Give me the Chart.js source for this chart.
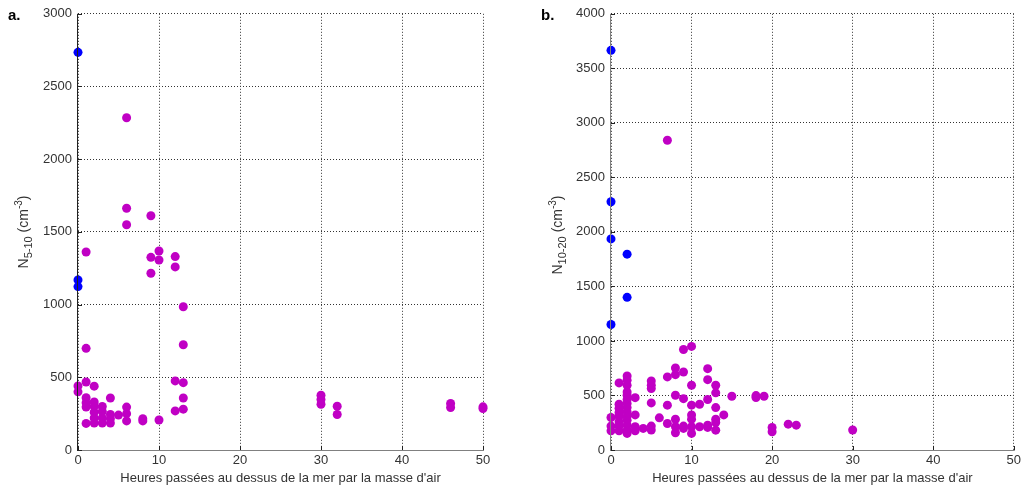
<!DOCTYPE html>
<html>
<head>
<meta charset="utf-8">
<script src="https://cdn.jsdelivr.net/npm/chart.js@4"></script>
<style>
  body { margin: 0; background: #fff; width: 1024px; height: 488px; position: relative; overflow: hidden; }
  .panel { position: absolute; top: 0; width: 512px; height: 488px; }
  .tag { position: absolute; top: 6px; font: bold 15px "Liberation Sans", Arial, sans-serif; color: #000; }
</style>
</head>
<body>
<div class="panel" style="left:0"><canvas id="chart-a" width="512" height="488"></canvas></div>
<div class="panel" style="left:512px"><canvas id="chart-b" width="512" height="488"></canvas></div>
<div class="tag" style="left:8px">a.</div>
<div class="tag" style="left:541px">b.</div>
<script>
// Panel a: N 5-10
const aBlueX = [0, 0, 0];
const aBlueY = [2735, 1170, 1124];
const aMagX = [0, 0,
  1, 1, 1, 1, 1, 1, 1,
  2, 2, 2, 2, 2, 2,
  3, 3, 3, 3,
  4, 4, 4, 4,
  5,
  6, 6, 6, 6, 6, 6,
  8, 8,
  9, 9, 9,
  10, 10, 10,
  12, 12, 12, 12,
  13, 13, 13, 13, 13,
  30, 30, 30,
  32, 32,
  46, 46,
  50, 50];
const aMagY = [440, 400,
  1362, 699, 468, 360, 325, 295, 183,
  439, 330, 300, 260, 220, 185,
  300, 265, 220, 185,
  358, 245, 215, 185,
  240,
  2285, 1663, 1549, 295, 250, 200,
  215, 200,
  1611, 1325, 1216,
  1369, 1307, 206,
  1330, 1259, 475, 269,
  985, 724, 463, 358, 281,
  377, 347, 315,
  301, 244,
  320, 292,
  297, 285];

// Panel b: N 10-20
const bBlueX = [0, 0, 0, 0, 2, 2];
const bBlueY = [3665, 2277, 1936, 1151, 1796, 1400];
const bMagX = [0, 0, 0,
  1, 1, 1, 1, 1, 1, 1, 1,
  2, 2, 2, 2, 2, 2, 2, 2, 2, 2, 2, 2, 2, 2,
  3, 3, 3, 3,
  4,
  5, 5, 5, 5, 5, 5,
  6,
  7, 7, 7, 7,
  8, 8, 8, 8, 8, 8,
  9, 9, 9, 9, 9,
  10, 10, 10, 10, 10, 10, 10,
  11, 11,
  12, 12, 12, 12, 12,
  13, 13, 13, 13, 13, 13,
  14, 15, 18, 18, 19,
  20, 20, 22, 23, 30];
const bMagY = [298, 219, 176,
  615, 420, 383, 344, 307, 260, 219, 177,
  679, 640, 594, 533, 502, 463, 426, 389, 350, 310, 273, 228, 182, 152,
  480, 322, 213, 176,
  198,
  633, 594, 563, 432, 219, 183,
  295,
  2840, 670, 411, 243,
  752, 691, 502, 282, 213, 158,
  922, 715, 471, 219, 198,
  950, 594, 411, 322, 283, 213, 152,
  420, 213,
  746, 645, 463, 228, 207,
  594, 524, 389, 283, 252, 182,
  322, 493, 499, 481, 493,
  207, 167, 237, 228, 183];

const xLabel = "Heures passées au dessus de la mer par la masse d'air";
const FONT = '"Liberation Sans", Arial, sans-serif';

function toPoints(xs, ys) {
    return xs.map((x, i) => ({ x: x, y: ys[i] }));
}

// draws the axis lines, inward ticks and the rotated y label with sub/superscripts
const axesPlugin = {
    id: 'axesPlugin',
    afterDraw(chart, args, opts) {
        const ctx = chart.ctx;
        const area = chart.chartArea;
        const xs = chart.scales.x, ys = chart.scales.y;
        ctx.save();
        ctx.setLineDash([]);
        ctx.lineWidth = 1;
        // bottom axis
        ctx.strokeStyle = '#808080';
        ctx.beginPath();
        ctx.moveTo(area.left, area.bottom + 0.5);
        ctx.lineTo(area.right + 1, area.bottom + 0.5);
        ctx.stroke();
        // left axis
        ctx.strokeStyle = opts.leftColor;
        ctx.beginPath();
        ctx.moveTo(area.left - 0.5, area.top);
        ctx.lineTo(area.left - 0.5, area.bottom + 1);
        ctx.stroke();
        // inward ticks
        ctx.strokeStyle = '#222';
        xs.ticks.forEach(t => {
            const px = Math.round(xs.getPixelForValue(t.value)) + 0.5;
            ctx.beginPath();
            ctx.moveTo(px, area.bottom);
            ctx.lineTo(px, area.bottom - 4);
            ctx.stroke();
        });
        ys.ticks.forEach(t => {
            const py = Math.round(ys.getPixelForValue(t.value)) + 0.5;
            ctx.beginPath();
            ctx.moveTo(area.left, py);
            ctx.lineTo(area.left + 4, py);
            ctx.stroke();
        });
        // y label
        const parts = opts.label;
        ctx.translate(opts.lx, opts.ly);
        ctx.rotate(-Math.PI / 2);
        ctx.fillStyle = '#333';
        ctx.textBaseline = 'alphabetic';
        let total = 0;
        parts.forEach(p => {
            ctx.font = p.size + 'px ' + FONT;
            p.w = ctx.measureText(p.t).width;
            total += p.w;
        });
        let cx = -total / 2;
        parts.forEach(p => {
            ctx.font = p.size + 'px ' + FONT;
            ctx.fillText(p.t, cx, p.dy);
            cx += p.w;
        });
        ctx.restore();
    }
};

function makeChart(id, blue, mag, yMax, padLeft, padRight, label, lx, ly, leftColor) {
    const ctx = document.getElementById(id).getContext('2d');
    return new Chart(ctx, {
        type: 'scatter',
        data: {
            datasets: [{
                data: blue,
                backgroundColor: '#0000ff',
                borderColor: '#0000ff',
                pointRadius: 4.5,
                borderWidth: 0,
                clip: false
            }, {
                data: mag,
                backgroundColor: '#c000c4',
                borderColor: '#c000c4',
                pointRadius: 4.5,
                borderWidth: 0,
                clip: false
            }]
        },
        options: {
            responsive: false,
            animation: false,
            layout: { padding: { left: 0, right: padRight, top: 12, bottom: 0 } },
            plugins: {
                legend: { display: false },
                tooltip: { enabled: false },
                axesPlugin: { label: label, lx: lx, ly: ly, leftColor: leftColor }
            },
            scales: {
                x: {
                    type: 'linear',
                    min: 0,
                    max: 50,
                    ticks: { stepSize: 10, padding: 3, color: '#333', font: { family: FONT, size: 13 },
                             callback: v => String(v) },
                    grid: { color: '#333', drawTicks: false },
                    border: { display: false, dash: [1, 2] },
                    title: { display: true, text: xLabel, color: '#333', padding: { top: 0, bottom: 2 }, font: { family: FONT, size: 13 } },
                    afterFit: s => { s.height = 38; }
                },
                y: {
                    type: 'linear',
                    min: 0,
                    max: yMax,
                    ticks: { stepSize: 500, padding: 6, color: '#333', font: { family: FONT, size: 13 },
                             callback: v => String(v) },
                    grid: { color: '#333', drawTicks: false },
                    border: { display: false, dash: [1, 2] },
                    afterFit: s => { s.width = padLeft; }
                }
            }
        },
        plugins: [axesPlugin]
    });
}

document.addEventListener('DOMContentLoaded', function () {
    makeChart('chart-a', toPoints(aBlueX, aBlueY), toPoints(aMagX, aMagY), 3000, 78, 29,
        [{ t: 'N', size: 14, dy: 0 }, { t: '5-10', size: 11, dy: 4 }, { t: ' (cm', size: 14, dy: 0 },
         { t: '-3', size: 10, dy: -6 }, { t: ')', size: 14, dy: 0 }], 28, 232, '#222');
    makeChart('chart-b', toPoints(bBlueX, bBlueY), toPoints(bMagX, bMagY), 4000, 99, 8,
        [{ t: 'N', size: 14, dy: 0 }, { t: '10-20', size: 11, dy: 4 }, { t: ' (cm', size: 14, dy: 0 },
         { t: '-3', size: 10, dy: -6 }, { t: ')', size: 14, dy: 0 }], 50, 235, '#808080');
});
</script>
</body>
</html>
